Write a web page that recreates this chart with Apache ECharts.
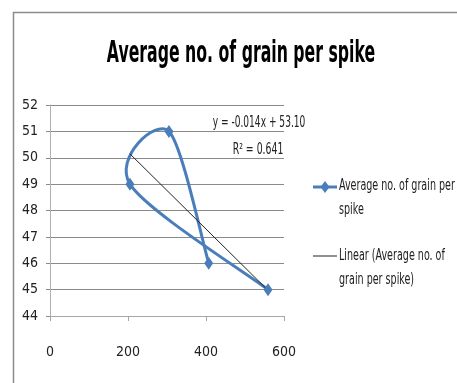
<!DOCTYPE html>
<html>
<head>
<meta charset="utf-8">
<script src="https://cdn.jsdelivr.net/npm/echarts@6/dist/echarts.min.js"></script>
<style>
html,body{margin:0;padding:0;background:#fff;}
#chart{width:457px;height:383px;}
</style>
</head>
<body>
<div id="chart"></div>
<script>
// Data (in plotted order)
const xValues = [407, 305, 205, 559];
const yValues = [46, 51, 49, 45];
const seriesName = 'Average no. of grain per spike';
const trendName = 'Linear (Average no. of grain per spike)';
const titleText = 'Average no. of grain per spike';
const equationText = 'y = -0.014x + 53.10';
const r2Text = 'R\u00B2 = 0.641';
const xTicks = [0, 200, 400, 600];
const yTicks = [44, 45, 46, 47, 48, 49, 50, 51, 52];

const FONT = '"DejaVu Sans Condensed", "Liberation Sans", sans-serif';
const BLUE = '#4a7ebb';

// least-squares trendline
const n = xValues.length;
const mx = xValues.reduce((a, b) => a + b, 0) / n;
const my = yValues.reduce((a, b) => a + b, 0) / n;
let sxy = 0, sxx = 0;
for (let i = 0; i < n; i++) { sxy += (xValues[i] - mx) * (yValues[i] - my); sxx += (xValues[i] - mx) ** 2; }
const slope = sxy / sxx, intercept = my - slope * mx;
const xmin = Math.min(...xValues), xmax = Math.max(...xValues);
const trendData = [[xmin, intercept + slope * xmin], [xmax, intercept + slope * xmax]];

// Excel-style smoothed line: Catmull-Rom bezier segments computed in pixel space
function renderSegment(params, api) {
  const i = params.dataIndex;
  if (i >= n - 1) return null;
  const P = k => api.coord([xValues[Math.max(0, Math.min(n - 1, k))], yValues[Math.max(0, Math.min(n - 1, k))]]);
  const p0 = P(i - 1), p1 = P(i), p2 = P(i + 1), p3 = P(i + 2);
  const f = 1 / 6;
  return {
    type: 'bezierCurve',
    shape: {
      x1: p1[0], y1: p1[1], x2: p2[0], y2: p2[1],
      cpx1: p1[0] + (p2[0] - p0[0]) * f, cpy1: p1[1] + (p2[1] - p0[1]) * f,
      cpx2: p2[0] - (p3[0] - p1[0]) * f, cpy2: p2[1] - (p3[1] - p1[1]) * f
    },
    style: {stroke: BLUE, lineWidth: 3, fill: null, lineCap: 'round'}
  };
}

const pairs = xValues.map((x, i) => [x, yValues[i]]);

const chart = echarts.init(document.getElementById('chart'), null, {renderer: 'canvas'});
chart.setOption({
  animation: false,
  backgroundColor: '#fff',
  grid: {left: 50, right: 173, top: 105, bottom: 67, containLabel: false},
  xAxis: {
    type: 'value', min: xTicks[0], max: xTicks[xTicks.length - 1], interval: 200,
    axisLine: {show: true, lineStyle: {color: '#a6a6a6', width: 1}},
    axisTick: {show: true, length: 5, lineStyle: {color: '#a6a6a6'}},
    splitLine: {show: false},
    axisLabel: {color: '#222', fontFamily: FONT, fontSize: 14, margin: 29}
  },
  yAxis: {
    type: 'value', min: yTicks[0], max: yTicks[yTicks.length - 1], interval: 1,
    axisLine: {show: true, lineStyle: {color: '#b0b0b0', width: 1}},
    axisTick: {show: true, length: 4, lineStyle: {color: '#8a8a8a'}},
    splitLine: {show: true, lineStyle: {color: '#8a8a8a', width: 1}},
    axisLabel: {color: '#222', fontFamily: FONT, fontSize: 14, margin: 12}
  },
  series: [
    {
      name: seriesName, type: 'custom', renderItem: renderSegment,
      data: pairs, encode: {x: 0, y: 1}, clip: false, z: 3
    },
    {
      name: seriesName, type: 'scatter', data: pairs,
      symbol: 'diamond', symbolSize: [9, 13],
      itemStyle: {color: BLUE, opacity: 1}, z: 5
    },
    {
      name: trendName, type: 'line', data: trendData, symbol: 'none',
      lineStyle: {color: '#222', width: 1}, z: 4
    }
  ],
  graphic: [
    {type: 'rect', shape: {x: 13.5, y: 12.5, width: 500, height: 400},
     style: {fill: 'none', stroke: '#8c8c8c', lineWidth: 1.5}, silent: true},
    {type: 'text', x: 241, y: 54, scaleX: 0.76, scaleY: 1.3,
     style: {text: titleText, font: 'bold 23px ' + FONT, fill: '#000', align: 'center', verticalAlign: 'middle'}},
    {type: 'text', x: 259, y: 123, scaleX: 0.72, scaleY: 1.1,
     style: {text: equationText, font: '14px ' + FONT, fill: '#222', align: 'center', verticalAlign: 'middle'}},
    {type: 'text', x: 258, y: 150, scaleX: 0.74, scaleY: 1.1,
     style: {text: r2Text, font: '14px ' + FONT, fill: '#222', align: 'center', verticalAlign: 'middle'}},
    // legend
    {type: 'line', shape: {x1: 313, y1: 187, x2: 337, y2: 187}, style: {stroke: BLUE, lineWidth: 3}},
    {type: 'polygon', shape: {points: [[325, 181], [329.5, 187], [325, 193], [320.5, 187]]}, style: {fill: BLUE}},
    {type: 'text', x: 339, y: 198, scaleX: 0.76, scaleY: 1.12,
     style: {text: 'Average no. of grain per\nspike', font: '14px ' + FONT, lineHeight: 22, fill: '#222', align: 'left', verticalAlign: 'middle'}},
    {type: 'line', shape: {x1: 313, y1: 256, x2: 337, y2: 256}, style: {stroke: '#222', lineWidth: 1}},
    {type: 'text', x: 339, y: 268, scaleX: 0.76, scaleY: 1.12,
     style: {text: 'Linear (Average no. of\ngrain per spike)', font: '14px ' + FONT, lineHeight: 22, fill: '#222', align: 'left', verticalAlign: 'middle'}}
  ]
});
</script>
</body>
</html>
